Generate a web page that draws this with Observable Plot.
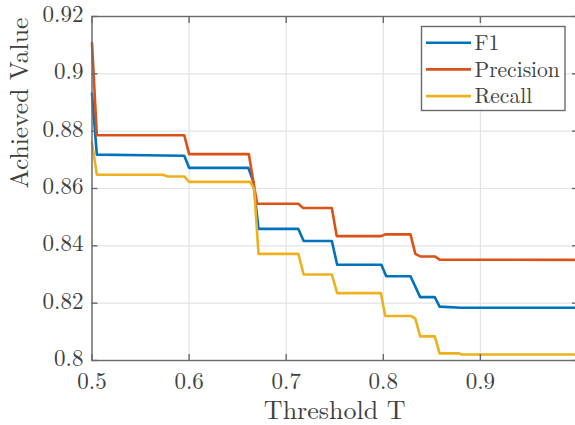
<!DOCTYPE html>
<html>
<head>
<meta charset="utf-8">
<script src="https://cdn.jsdelivr.net/npm/d3@7"></script>
<script src="https://cdn.jsdelivr.net/npm/@observablehq/plot@0.6"></script>
<style>
  html, body { margin: 0; padding: 0; background: white; }
  #wrap { position: relative; width: 575px; height: 425px; overflow: hidden; }
  #legend { position: absolute; left: 0; top: 0; }
</style>
</head>
<body>
<div id="wrap"></div>
<script>
// ---- data ----
const seriesNames = ["F1", "Precision", "Recall"];
const seriesColors = ["#0072BD", "#D95319", "#EDB120"];

const f1T = [0.500, 0.505, 0.555, 0.595, 0.600, 0.661, 0.666, 0.6715, 0.7125, 0.718, 0.747, 0.7525, 0.798, 0.803, 0.828, 0.838, 0.853, 0.858, 0.880, 1.0];
const f1V = [0.8931, 0.8718, 0.8716, 0.8714, 0.8672, 0.8672, 0.8625, 0.8459, 0.8459, 0.8417, 0.8417, 0.8334, 0.8334, 0.8294, 0.8294, 0.8221, 0.8221, 0.8188, 0.8184, 0.8184];

const precT = [0.500, 0.505, 0.595, 0.600, 0.6615, 0.670, 0.7125, 0.7175, 0.747, 0.752, 0.798, 0.802, 0.828, 0.833, 0.838, 0.853, 0.858, 1.0];
const precV = [0.9107, 0.8786, 0.8786, 0.8720, 0.8720, 0.8547, 0.8547, 0.8532, 0.8532, 0.8434, 0.8434, 0.8440, 0.8440, 0.8372, 0.8363, 0.8363, 0.8352, 0.8351];

const recT = [0.500, 0.505, 0.573, 0.578, 0.595, 0.600, 0.663, 0.667, 0.6715, 0.7125, 0.718, 0.747, 0.7525, 0.7975, 0.802, 0.829, 0.833, 0.838, 0.853, 0.858, 0.8775, 0.881, 1.0];
const recV = [0.8760, 0.8648, 0.8648, 0.8642, 0.8642, 0.8623, 0.8623, 0.8599, 0.8372, 0.8372, 0.8300, 0.8300, 0.8235, 0.8235, 0.8155, 0.8155, 0.8146, 0.8084, 0.8084, 0.8025, 0.8025, 0.8021, 0.8021];

const xTicks = [0.5, 0.6, 0.7, 0.8, 0.9];
const yTicks = [0.8, 0.82, 0.84, 0.86, 0.88, 0.9, 0.92];
const xLabel = "Threshold T";
const yLabel = "Achieved Value";

// ---- build table ----
const rows = [];
[[f1T, f1V], [precT, precV], [recT, recV]].forEach(([ts, vs], i) => {
  ts.forEach((t, j) => rows.push({series: seriesNames[i], t, v: vs[j]}));
});

const fmt = d => String(+d.toFixed(2));
const textColor = "#404040";
const axisColor = "#6a6a6a";
const gridColor = "#e3e3e3";
const cm = "Latin Modern Roman, serif";

const chart = Plot.plot({
  width: 575,
  height: 425,
  marginLeft: 91.5,
  marginRight: -2,
  marginTop: 16,
  marginBottom: 65,
  style: {fontFamily: cm, fontSize: "23px", color: textColor, background: "white", overflow: "visible"},
  x: {domain: [0.5, 1.0]},
  y: {domain: [0.8, 0.92]},
  color: {domain: seriesNames, range: seriesColors},
  marks: [
    Plot.gridX(xTicks, {stroke: gridColor, strokeOpacity: 1, strokeWidth: 1.2}),
    Plot.gridY(yTicks, {stroke: gridColor, strokeOpacity: 1, strokeWidth: 1.2}),
    Plot.line(rows, {x: "t", y: "v", z: "series", stroke: "series", strokeWidth: 2.6}),
    Plot.frame({stroke: axisColor, strokeWidth: 1.4}),
    Plot.axisX(xTicks, {anchor: "bottom", tickSize: 0, tickPadding: 12, tickFormat: fmt, label: null, fill: textColor, fontSize: 23}),
    Plot.axisX(xTicks, {anchor: "bottom", tickSize: -6, tickFormat: () => "", label: null, stroke: axisColor, strokeWidth: 1.4}),
    Plot.axisX(xTicks, {anchor: "top", tickSize: -6, tickFormat: () => "", label: null, stroke: axisColor, strokeWidth: 1.4}),
    Plot.axisY(yTicks, {anchor: "left", tickSize: 0, tickPadding: 8.5, dy: -2, tickFormat: fmt, label: null, fill: textColor, fontSize: 23}),
    Plot.axisY(yTicks, {anchor: "left", tickSize: -6, tickFormat: () => "", label: null, stroke: axisColor, strokeWidth: 1.4}),
    Plot.axisY(yTicks, {anchor: "right", tickSize: -6, tickFormat: () => "", label: null, stroke: axisColor, strokeWidth: 1.4}),
    Plot.text([xLabel], {frameAnchor: "bottom", dy: 58, lineAnchor: "bottom", fontSize: 26, fill: textColor}),
    Plot.text([yLabel], {frameAnchor: "left", dx: -72, rotate: -90, fontSize: 25.5, fill: textColor})
  ]
});

const wrap = document.getElementById("wrap");
wrap.appendChild(chart);

// ---- legend overlay ----
const ns = "http://www.w3.org/2000/svg";
const lg = document.createElementNS(ns, "svg");
lg.setAttribute("id", "legend");
lg.setAttribute("width", 575);
lg.setAttribute("height", 425);
lg.setAttribute("style", "font-family: Latin Modern Roman, serif; font-size: 21.5px");
const box = document.createElementNS(ns, "rect");
box.setAttribute("x", 421.5); box.setAttribute("y", 26.5);
box.setAttribute("width", 143.5); box.setAttribute("height", 84);
box.setAttribute("fill", "white"); box.setAttribute("stroke", axisColor); box.setAttribute("stroke-width", 1.4);
lg.appendChild(box);
seriesNames.forEach((name, i) => {
  const y = 42.7 + i * 26.7;
  const ln = document.createElementNS(ns, "line");
  ln.setAttribute("x1", 426); ln.setAttribute("x2", 471);
  ln.setAttribute("y1", y); ln.setAttribute("y2", y);
  ln.setAttribute("stroke", seriesColors[i]); ln.setAttribute("stroke-width", 2.6);
  lg.appendChild(ln);
  const tx = document.createElementNS(ns, "text");
  tx.setAttribute("x", 474.5); tx.setAttribute("y", y + 7.3);
  tx.setAttribute("fill", textColor);
  tx.textContent = name;
  lg.appendChild(tx);
});
wrap.appendChild(lg);
</script>
</body>
</html>
